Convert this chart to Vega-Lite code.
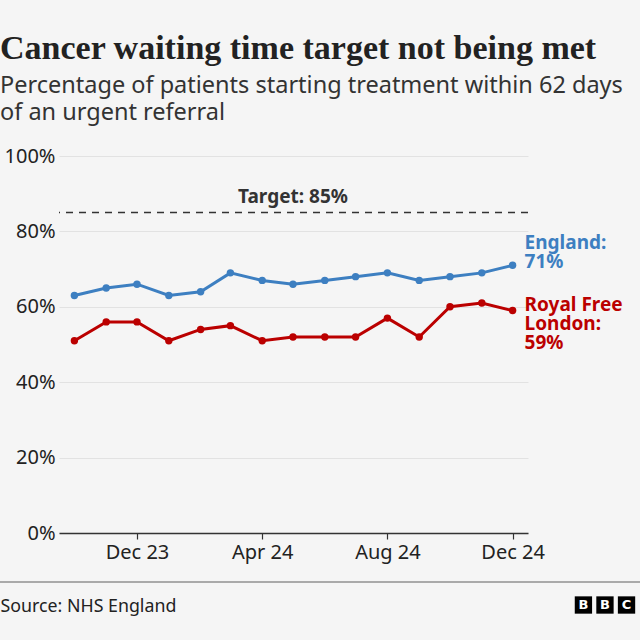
{
  "$schema": "https://vega.github.io/schema/vega-lite/v6.json",
  "autosize": "none",
  "width": 469,
  "height": 377,
  "padding": {"left": 59, "top": 156, "right": 112, "bottom": 107},
  "background": "#f5f5f5",
  "title": {
    "text": "Cancer waiting time target not being met",
    "subtitle": ["Percentage of patients starting treatment within 62 days", "of an urgent referral"],
    "anchor": "start",
    "frame": "group",
    "dx": -59,
    "offset": 22,
    "font": "Liberation Serif",
    "fontSize": 34,
    "fontWeight": "bold",
    "color": "#222222",
    "subtitleFont": "Noto Sans",
    "subtitleFontSize": 23.5,
    "subtitleColor": "#333333",
    "subtitleLineHeight": 27,
    "subtitlePadding": 8
  },
  "config": {
    "view": {"stroke": null},
    "font": "Noto Sans",
    "axis": {"labelFont": "Noto Sans", "labelFontSize": 20, "labelColor": "#222222", "titleFont": "Noto Sans"}
  },
  "data": {
    "values": [
      {"date": "2023-10-01", "series": "England", "value": 63},
      {"date": "2023-11-01", "series": "England", "value": 65},
      {"date": "2023-12-01", "series": "England", "value": 66},
      {"date": "2024-01-01", "series": "England", "value": 63},
      {"date": "2024-02-01", "series": "England", "value": 64},
      {"date": "2024-03-01", "series": "England", "value": 69},
      {"date": "2024-04-01", "series": "England", "value": 67},
      {"date": "2024-05-01", "series": "England", "value": 66},
      {"date": "2024-06-01", "series": "England", "value": 67},
      {"date": "2024-07-01", "series": "England", "value": 68},
      {"date": "2024-08-01", "series": "England", "value": 69},
      {"date": "2024-09-01", "series": "England", "value": 67},
      {"date": "2024-10-01", "series": "England", "value": 68},
      {"date": "2024-11-01", "series": "England", "value": 69},
      {"date": "2024-12-01", "series": "England", "value": 71},
      {"date": "2023-10-01", "series": "Royal Free London", "value": 51},
      {"date": "2023-11-01", "series": "Royal Free London", "value": 56},
      {"date": "2023-12-01", "series": "Royal Free London", "value": 56},
      {"date": "2024-01-01", "series": "Royal Free London", "value": 51},
      {"date": "2024-02-01", "series": "Royal Free London", "value": 54},
      {"date": "2024-03-01", "series": "Royal Free London", "value": 55},
      {"date": "2024-04-01", "series": "Royal Free London", "value": 51},
      {"date": "2024-05-01", "series": "Royal Free London", "value": 52},
      {"date": "2024-06-01", "series": "Royal Free London", "value": 52},
      {"date": "2024-07-01", "series": "Royal Free London", "value": 52},
      {"date": "2024-08-01", "series": "Royal Free London", "value": 57},
      {"date": "2024-09-01", "series": "Royal Free London", "value": 52},
      {"date": "2024-10-01", "series": "Royal Free London", "value": 60},
      {"date": "2024-11-01", "series": "Royal Free London", "value": 61},
      {"date": "2024-12-01", "series": "Royal Free London", "value": 59}
    ]
  },
  "layer": [
    {
      "mark": {"type": "line", "strokeWidth": 3},
      "encoding": {
        "x": {
          "field": "date", "type": "temporal",
          "scale": {"type": "utc", "domain": ["2023-09-16", "2024-12-16"], "nice": false},
          "axis": {
            "values": ["2023-12-01", "2024-04-01", "2024-08-01", "2024-12-01"],
            "labelExpr": "utcFormat(datum.value, '%b %y')",
            "grid": false, "domainColor": "#333333", "domainWidth": 1.5,
            "tickColor": "#333333", "tickSize": 6, "tickWidth": 1.2, "labelPadding": 3,
            "title": "Source: NHS England", "titleX": -59, "titleY": 78, "titleAlign": "left",
            "titleBaseline": "alphabetic", "titleFontSize": 17.8, "titleFontWeight": "normal", "titleColor": "#222222"
          }
        },
        "y": {
          "field": "value", "type": "quantitative",
          "scale": {"domain": [0, 100], "nice": false},
          "axis": {
            "values": [0, 20, 40, 60, 80, 100], "labelExpr": "datum.value + '%'",
            "domain": false, "ticks": false, "labelPadding": 4,
            "gridColor": "#e2e2e2", "gridWidth": 1, "title": null
          }
        },
        "color": {
          "field": "series", "type": "nominal",
          "scale": {"domain": ["England", "Royal Free London"], "range": ["#3d7fc1", "#bb0000"]},
          "legend": null
        }
      }
    },
    {
      "mark": {"type": "point", "filled": true, "size": 55, "opacity": 1},
      "encoding": {
        "x": {"field": "date", "type": "temporal"},
        "y": {"field": "value", "type": "quantitative"},
        "color": {"field": "series", "type": "nominal"}
      }
    },
    {
      "data": {"values": [{"value": 85}]},
      "mark": {"type": "rule", "strokeDash": [7, 6], "strokeWidth": 1.5, "color": "#333333"},
      "encoding": {"y": {"field": "value", "type": "quantitative"}}
    },
    {
      "data": {"values": [{"date": "2024-05-01", "value": 85, "label": "Target: 85%"}]},
      "mark": {"type": "text", "fontWeight": "bold", "fontSize": 19, "color": "#333333", "baseline": "alphabetic", "dy": -10, "align": "center"},
      "encoding": {
        "x": {"field": "date", "type": "temporal"},
        "y": {"field": "value", "type": "quantitative"},
        "text": {"field": "label"}
      }
    },
    {
      "data": {"values": [{"date": "2024-12-01", "value": 71, "label": "England:\n71%"}]},
      "mark": {"type": "text", "fontWeight": "bold", "fontSize": 19, "lineHeight": 19, "color": "#3d7fc1", "baseline": "top", "align": "left", "dx": 12, "dy": -31, "lineBreak": "\n"},
      "encoding": {
        "x": {"field": "date", "type": "temporal"},
        "y": {"field": "value", "type": "quantitative"},
        "text": {"field": "label"}
      }
    },
    {
      "data": {"values": [{"date": "2024-12-01", "value": 59, "label": "Royal Free\nLondon:\n59%"}]},
      "mark": {"type": "text", "fontWeight": "bold", "fontSize": 19, "lineHeight": 19, "color": "#bb0000", "baseline": "top", "align": "left", "dx": 12, "dy": -15, "lineBreak": "\n"},
      "encoding": {
        "x": {"field": "date", "type": "temporal"},
        "y": {"field": "value", "type": "quantitative"},
        "text": {"field": "label"}
      }
    },
    {
      "mark": {"type": "rule", "color": "#aaaaaa", "strokeWidth": 1.5},
      "encoding": {
        "x": {"datum": {"year": 2023, "month": 7, "date": 20, "utc": true}, "type": "temporal"},
        "x2": {"datum": {"year": 2025, "month": 4, "date": 6, "utc": true}},
        "y": {"datum": -13, "type": "quantitative"}
      }
    },
    {
      "data": {"values": [{"letter": "B", "slot": "2025-02-08"}, {"letter": "B", "slot": "2025-03-01"}, {"letter": "C", "slot": "2025-03-22"}]},
      "mark": {"type": "square", "filled": true, "color": "#000000", "size": 300, "opacity": 1},
      "encoding": {
        "x": {"field": "slot", "type": "temporal"},
        "y": {"datum": -19.1, "type": "quantitative"}
      }
    },
    {
      "data": {"values": [{"letter": "B", "slot": "2025-02-08"}, {"letter": "B", "slot": "2025-03-01"}, {"letter": "C", "slot": "2025-03-22"}]},
      "mark": {"type": "text", "font": "DejaVu Sans", "fontWeight": "bold", "fontSize": 13, "color": "#ffffff", "baseline": "middle", "align": "center"},
      "encoding": {
        "x": {"field": "slot", "type": "temporal"},
        "y": {"datum": -19.1, "type": "quantitative"},
        "text": {"field": "letter"}
      }
    }
  ]
}
